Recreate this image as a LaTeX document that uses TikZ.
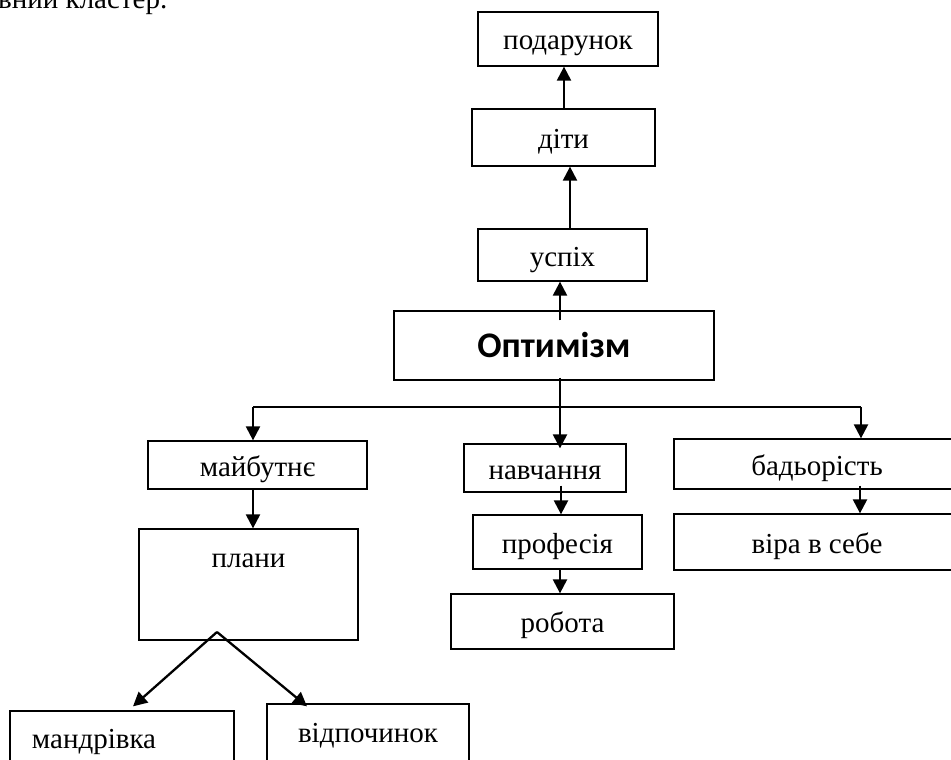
\documentclass[tikz,border=0pt]{standalone}
\usepackage{fontspec}
\setmainfont{Liberation Serif}
\newfontfamily\boldsans{Carlito}
\usetikzlibrary{arrows.meta}
\tikzset{
  box/.style={draw=black, line width=1.3pt, inner sep=0pt, text height=22pt, text depth=0pt, font=\fontsize{29}{32}\selectfont},
  lbl/.style={inner sep=0pt, font=\fontsize{29}{32}\selectfont},
  arr/.style={line width=2.3pt, -{Triangle[length=14pt,width=14pt]}},
  conn/.style={line width=2.3pt},
}
\begin{document}
\begin{tikzpicture}[x=1pt,y=-1pt]
\path[use as bounding box] (0,0) rectangle (951,760);
\clip (0,0) rectangle (951,760);
\fill[white] (0,0) rectangle (951,760);

\node[lbl, anchor=base west] (caption) at (-2,9) {вний кластер.};

\node[box, minimum width=180, minimum height=54] (podarunok) at (568,39) {подарунок};
\node[box, minimum width=183, minimum height=57] (dity) at (563.5,137.5) {діти};
\node[box, minimum width=169, minimum height=52] (uspih) at (562.5,255) {успіх};
\node[box, minimum width=320, minimum height=69, text height=24pt, font=\boldsans\bfseries\fontsize{36}{40}\selectfont] (optym) at (554,345.5) {Оптимізм};

\node[box, minimum width=219, minimum height=48] (maibutne) at (257.5,465) {майбутнє};
\node[box, minimum width=219, minimum height=111] (plany) at (248.5,584.5) {};
\node[lbl, anchor=base] (planytxt) at (248.5,567) {плани};

\node[box, minimum width=162, minimum height=48] (navch) at (545,468) {навчання};
\node[box, minimum width=169, minimum height=54] (profesia) at (557.5,542) {професія};
\node[box, minimum width=223, minimum height=55] (robota) at (562.5,621.5) {робота};

\node[box, minimum width=286, minimum height=50] (badyor) at (817,464) {бадьорість};
\node[box, minimum width=286, minimum height=56] (vira) at (817,542) {віра в себе};

\node[box, minimum width=224, minimum height=79] (mandr) at (122,750.5) {};
\node[lbl, anchor=base] (mandrtxt) at (94,748) {мандрівка};
\node[box, minimum width=202, minimum height=86] (vidp) at (368,747) {};
\node[lbl, anchor=base] (vidptxt) at (368,742) {відпочинок};

% upward chain
\draw[arr] ([xshift=0.5]dity.north) -- ([xshift=-4]podarunok.south);
\draw[arr] ([xshift=7.5]uspih.north) -- ([xshift=6.5]dity.south);
\draw[arr] ([xshift=6,yshift=-10]optym.north) -- ([xshift=-2.5]uspih.south);

% downward tree
\coordinate (hl) at (253,407);
\coordinate (hr) at (861,407);
\draw[conn] (hl) -- (hr);
\draw[arr] ([xshift=6,yshift=3]optym.south) -- ([xshift=15,yshift=-5]navch.north);
\draw[arr] (hl) -- (maibutne.north -| hl);
\draw[arr] (hr) -- (badyor.north -| hr);

\draw[arr] ([xshift=-4.5]maibutne.south) -- ([xshift=4.5]plany.north);
\draw[arr] ([xshift=16,yshift=7]navch.south) -- ([xshift=3.5]profesia.north);
\draw[arr] ([xshift=2.5]profesia.south) -- ([xshift=-2.5]robota.north);
\draw[arr] ([xshift=43,yshift=4]badyor.south) -- ([xshift=43]vira.north);

\coordinate (apex) at (217,632);
\draw[arr] (apex) -- ([xshift=11,yshift=4]mandr.north);
\draw[arr] (apex) -- ([xshift=-61,yshift=-3]vidp.north);
\end{tikzpicture}
\end{document}
